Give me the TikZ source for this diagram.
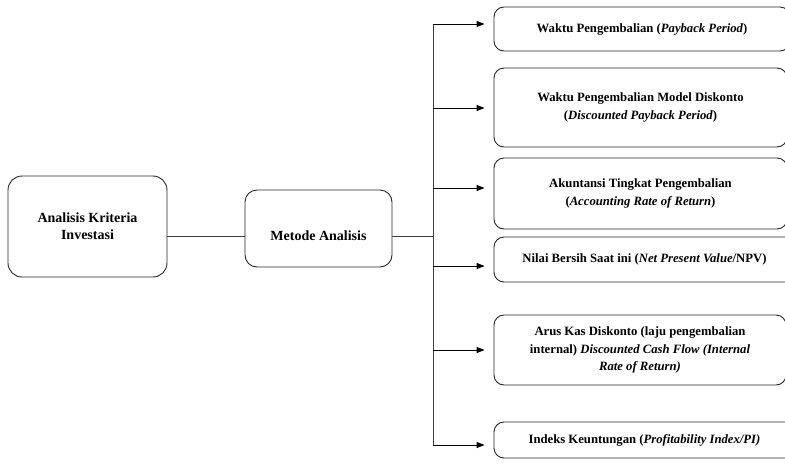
\documentclass[tikz,border=0pt]{standalone}
\usepackage{fontspec}
\setmainfont{Liberation Serif}[BoldFont={Liberation Serif Bold},ItalicFont={Liberation Serif Italic},BoldItalicFont={Liberation Serif Bold Italic}]
\usetikzlibrary{arrows.meta}
\newcommand{\bi}[1]{{\bfseries\itshape #1}}
\begin{document}
\begin{tikzpicture}[x=1pt,y=-1pt,
  leftbox/.style={draw=black!85,line width=0.9pt,rounded corners=14pt,inner sep=0pt,align=center,
    font=\fontsize{14}{17}\selectfont\bfseries},
  rbox/.style={draw=black!85,line width=0.9pt,rounded corners=10pt,inner sep=0pt,align=center,
    font=\fontsize{12.7}{17.5}\selectfont\bfseries},
  link/.style={draw=black!75,line width=0.9pt},
  arr/.style={draw=black,line width=0.9pt,-{Triangle[length=8pt,width=6pt]},shorten >=9pt}]
\useasboundingbox (0,0) rectangle (785,467);
\clip (0,0) rectangle (785,467);
% left side
\node[leftbox,minimum width=159pt,minimum height=101pt] (aki) at (87.5,226.5) {Analisis Kriteria\\Investasi};
\node[leftbox,rounded corners=12pt,minimum width=147pt,minimum height=77pt] (ma) at (318.5,228.5) {\raisebox{-7pt}[\height][\depth]{Metode Analisis}};
% right boxes
\node[rbox,minimum width=296pt,minimum height=44pt] (b1) at (642,29) {Waktu Pengembalian (\bi{Payback Period})};
\node[rbox,minimum width=293pt,minimum height=79pt] (b2) at (640.5,107.5) {Waktu Pengembalian Model Diskonto\\(\bi{Discounted Payback Period})};
\node[rbox,minimum width=293pt,minimum height=71pt] (b3) at (640.5,193.5) {Akuntansi Tingkat Pengembalian\\(\bi{Accounting Rate of Return})};
\node[rbox,minimum width=301pt,minimum height=45pt] (b4) at (644.5,259.5) {Nilai Bersih Saat ini (\bi{Net Present Value}/NPV)};
\node[rbox,minimum width=292pt,minimum height=70pt] (b5) at (640,350) {Arus Kas Diskonto (laju pengembalian\\internal) \bi{Discounted Cash Flow (Internal}\\\bi{Rate of Return)}};
\node[rbox,minimum width=301pt,minimum height=36pt] (b6) at (644.5,440) {Indeks Keuntungan (\bi{Profitability Index/PI)}};
% spine
\coordinate (s1) at (433,24);
\coordinate (s2) at (433,108);
\coordinate (s3) at (433,188);
\coordinate (s4) at (433,266);
\coordinate (s5) at (433,350);
\coordinate (s6) at (433,445);
\coordinate (sm) at (433,236);
\draw[link] (s1) -- (s6);
\draw[link] (aki.east |- sm) -- (ma.west |- sm);
\draw[link] (ma.east |- sm) -- (sm);
\draw[arr] (s1) -- (s1 -| b1.west);
\draw[arr] (s2) -- (s2 -| b2.west);
\draw[arr] (s3) -- (s3 -| b3.west);
\draw[arr] (s4) -- (s4 -| b4.west);
\draw[arr] (s5) -- (s5 -| b5.west);
\draw[arr] (s6) -- (s6 -| b6.west);
\end{tikzpicture}
\end{document}
